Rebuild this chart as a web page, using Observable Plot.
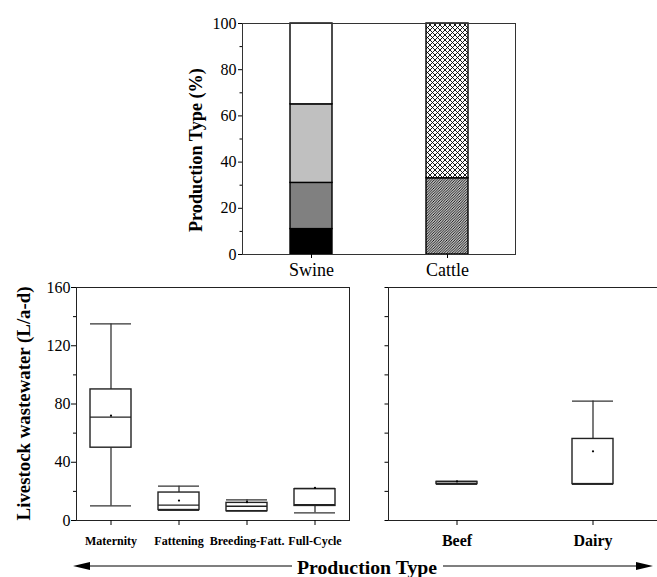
<!DOCTYPE html>
<html>
<head>
<meta charset="utf-8">
<script src="https://cdn.jsdelivr.net/npm/d3@7"></script>
<script src="https://cdn.jsdelivr.net/npm/@observablehq/plot@0.6"></script>
<style>
  html, body { margin: 0; padding: 0; width: 657px; height: 577px; overflow: hidden; background: #fff; }
  #root { position: relative; width: 657px; height: 577px; font-family: 'Liberation Serif', 'Times New Roman', serif; }
  .panel { position: absolute; max-width: none !important; }
  .ylab { position: absolute; font-weight: bold; white-space: nowrap; transform-origin: center center; line-height: 1; }
  #xtitle { position: absolute; font-weight: bold; white-space: nowrap; line-height: 1; }
</style>
</head>
<body>
<div id="root">
  <svg width="0" height="0" style="position:absolute">
    <defs>
      <pattern id="diag" patternUnits="userSpaceOnUse" width="2.6" height="2.6">
        <rect width="2.6" height="2.6" fill="#fff"/>
        <path d="M-1,1 L1,-1 M0,2.6 L2.6,0 M1.6,3.6 L3.6,1.6" stroke="#000" stroke-width="0.9"/>
      </pattern>
      <pattern id="cross" patternUnits="userSpaceOnUse" width="5" height="5">
        <rect width="5" height="5" fill="#fff"/>
        <path d="M0,0 L5,5 M0,5 L5,0" stroke="#000" stroke-width="0.9"/>
      </pattern>
    </defs>
  </svg>
</div>
<script>
// ---- Top panel: production type shares (%) ----
const segAnimal = ["Swine", "Swine", "Swine", "Swine", "Cattle", "Cattle"];
const segName = ["Maternity", "Fattening", "Breeding-Fatt.", "Full-Cycle", "Beef", "Dairy"];
const segShare = [11, 20, 34, 35, 33, 67];
const animals = ["Swine", "Cattle"];
const shareTicks = [0, 20, 40, 60, 80, 100];
const shareMinor = [10, 30, 50, 70, 90];

// ---- Bottom-left: swine wastewater (L/a-d) ----
const swineTypes = ["Maternity", "Fattening", "Breeding-Fatt.", "Full-Cycle"];
const swineMin = [10, 7, 6.4, 5.3];
const swineQ1 = [50, 7.2, 6.4, 10];
const swineMed = [71, 10.5, 9.8, 10.8];
const swineQ3 = [90, 19.2, 12.1, 21.5];
const swineMax = [135, 23.6, 14.2, 22];
const swineMean = [72, 13.7, 12.6, 22.4];

// ---- Bottom-right: cattle wastewater (L/a-d) ----
const cattleTypes = ["Beef", "Dairy"];
const cattleMin = [24.8, 25];
const cattleQ1 = [25, 25];
const cattleMed = [25.5, 25];
const cattleQ3 = [26.5, 56];
const cattleMax = [26.8, 82];
const cattleMean = [26.8, 47.5];

const wwTicks = [0, 40, 80, 120, 160];
const wwMinor = [20, 60, 100, 140];

// styles
const segFill = {
  "Maternity": "#000000",
  "Fattening": "#808080",
  "Breeding-Fatt.": "#c0c0c0",
  "Full-Cycle": "#ffffff",
  "Beef": "url(#diag)",
  "Dairy": "url(#cross)"
};
const FONT = "Liberation Serif";
const rootEl = document.getElementById("root");

function place(node, x, y) {
  node.classList.add("panel");
  node.style.left = x + "px";
  node.style.top = y + "px";
  node.style.fontFamily = "'Liberation Serif', serif";
  rootEl.appendChild(node);
}

// Top stacked bar chart
const segRows = segAnimal.map((a, i) => ({animal: a, name: segName[i], share: segShare[i], fill: segFill[segName[i]]}));
const sharePlot = Plot.plot({
  width: 340, height: 290,
  marginLeft: 62, marginRight: 5, marginTop: 23, marginBottom: 36,
  style: {fontFamily: FONT, fontSize: "16px", background: "transparent", color: "#000"},
  x: {domain: animals, paddingInner: 0.693, paddingOuter: 0.343, label: null},
  y: {domain: [0, 100], label: null},
  color: {type: "identity"},
  marks: [
    Plot.barY(segRows, {x: "animal", y: "share", fill: "fill", stroke: "#000", strokeWidth: 1.4}),
    Plot.frame({stroke: "#333"}),
    Plot.axisY(shareTicks, {tickSize: 4, tickPadding: 2, fontSize: 16, fontFamily: FONT, label: null}),
    Plot.axisY(shareMinor, {tickSize: 2.5, tickFormat: () => "", label: null}),
    Plot.axisX({tickSize: 4, tickPadding: 5, fontSize: 18, fontFamily: FONT, label: null})
  ]
});
place(sharePlot, 180, 0);

function boxPanel(types, mins, q1s, meds, q3s, maxs, means, o) {
  const rows = types.map((t, i) => ({type: t, min: mins[i], q1: q1s[i], med: meds[i], q3: q3s[i], max: maxs[i], mean: means[i]}));
  return Plot.plot({
    width: o.width, height: o.height,
    marginLeft: o.ml, marginRight: o.mr, marginTop: o.mt, marginBottom: o.mb,
    style: {fontFamily: FONT, fontSize: "16px", background: "transparent", color: "#000"},
    x: {domain: types, paddingInner: o.pi, paddingOuter: o.po, label: null},
    y: {domain: [0, 160], label: null},
    marks: [
      Plot.frame({stroke: "#222"}),
      Plot.ruleX(rows, {x: "type", y1: "min", y2: "q1", stroke: "#222", strokeWidth: 1.2}),
      Plot.ruleX(rows, {x: "type", y1: "q3", y2: "max", stroke: "#222", strokeWidth: 1.2}),
      Plot.tickY(rows, {x: "type", y: "min", stroke: "#333", strokeWidth: 1.3}),
      Plot.tickY(rows, {x: "type", y: "max", stroke: "#333", strokeWidth: 1.3}),
      Plot.barY(rows, {x: "type", y1: "q1", y2: "q3", fill: "#fff", stroke: "#222", strokeWidth: 1.4}),
      Plot.tickY(rows, {x: "type", y: "med", stroke: "#222", strokeWidth: 1.3}),
      Plot.dot(rows, {x: "type", y: "mean", r: 1.1, fill: "#000", stroke: null}),
      Plot.axisY(wwTicks, {tickSize: o.major, tickPadding: 1, fontSize: 16, fontFamily: FONT, tickFormat: o.labels ? undefined : () => "", label: null}),
      Plot.axisY(wwMinor, {tickSize: o.minor, tickFormat: () => "", label: null}),
      Plot.axisX({tickSize: 5, tickPadding: o.xpad, fontSize: o.xfs, fontWeight: "bold", fontFamily: FONT, label: null})
    ]
  });
}

const swinePlot = boxPanel(swineTypes, swineMin, swineQ1, swineMed, swineQ3, swineMax, swineMean,
  {width: 360, height: 285, ml: 76, mr: 11, mt: 17, mb: 35, pi: 0.4, po: 0.2, major: 5, minor: 3, labels: true, xfs: 12, xpad: 11});
place(swinePlot, 0, 270);

const cattlePlot = boxPanel(cattleTypes, cattleMin, cattleQ1, cattleMed, cattleQ3, cattleMax, cattleMean,
  {width: 305, height: 285, ml: 28, mr: 3.5, mt: 17, mb: 35, pi: 0.7, po: 0.35, major: 3.5, minor: 3.5, labels: false, xfs: 16, xpad: 9});
place(cattlePlot, 360, 270);

// Rotated y-axis titles, sized to span the reference length
function fitText(el, targetWidth) {
  el.style.fontSize = "100px";
  const w100 = el.offsetWidth;
  el.style.fontSize = (100 * targetWidth / w100) + "px";
}
function ylab(text, cx, cy, len) {
  const d = document.createElement("div");
  d.className = "ylab";
  d.textContent = text;
  rootEl.appendChild(d);
  fitText(d, len);
  const w = d.offsetWidth, h = d.offsetHeight;
  d.style.left = (cx - w / 2) + "px";
  d.style.top = (cy - h / 2) + "px";
  d.style.transform = "rotate(-90deg)";
}
ylab("Production Type (%)", 196, 150, 164);
ylab("Livestock wastewater (L/a-d)", 24, 403, 234);

// Bottom arrow with title
const ns = "http://www.w3.org/2000/svg";
const arr = document.createElementNS(ns, "svg");
arr.setAttribute("width", 657); arr.setAttribute("height", 30);
arr.style.position = "absolute"; arr.style.left = "0px"; arr.style.top = "552px";
arr.innerHTML = `
  <line x1="82" y1="14" x2="292" y2="14" stroke="#000" stroke-width="1.2"/>
  <polygon points="73,14 90,10 90,18" fill="#000"/>
  <line x1="443" y1="14" x2="645" y2="14" stroke="#000" stroke-width="1.2"/>
  <polygon points="653,14 636,10 636,18" fill="#000"/>`;
rootEl.appendChild(arr);
const xt = document.createElement("div");
xt.id = "xtitle";
xt.textContent = "Production Type";
rootEl.appendChild(xt);
fitText(xt, 140);
xt.style.left = (367 - xt.offsetWidth / 2) + "px";
xt.style.top = (568 - xt.offsetHeight / 2) + "px";
</script>
</body>
</html>
